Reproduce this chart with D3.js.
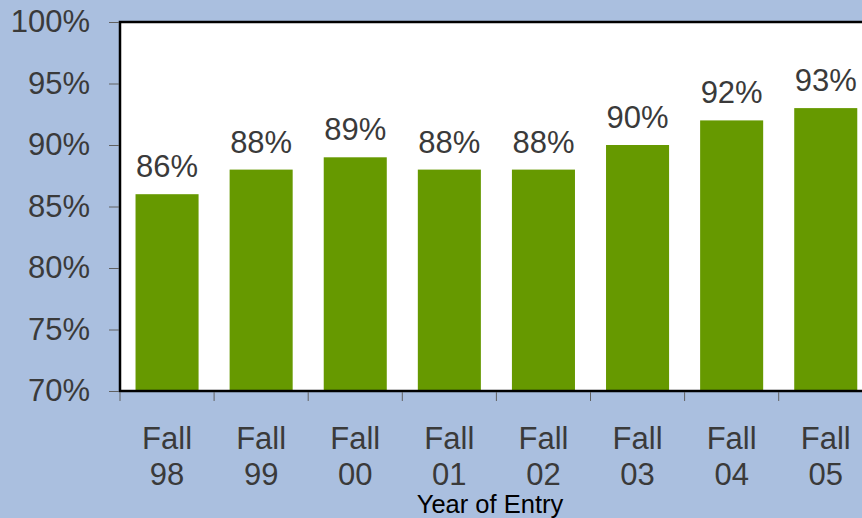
<!DOCTYPE html>
<html>
<head>
<meta charset="utf-8">
<script src="https://cdn.jsdelivr.net/npm/d3@7"></script>
<style>
  html, body { margin: 0; padding: 0; background: #aabfdf; overflow: hidden; }
  svg { display: block; }
  text { font-family: "Liberation Sans", Arial, sans-serif; }
</style>
</head>
<body>
<svg id="chart" width="862" height="518"></svg>
<script>
const seasons = ["Fall", "Fall", "Fall", "Fall", "Fall", "Fall", "Fall", "Fall"];
const years = ["98", "99", "00", "01", "02", "03", "04", "05"];
const values = [86, 88, 89, 88, 88, 90, 92, 93];
const yTicks = [70, 75, 80, 85, 90, 95, 100];
const xTitle = "Year of Entry";

const categories = years.map((y, i) => seasons[i] + " " + y);

const svg = d3.select("#chart");
const plot = { left: 120, top: 22, right: 872.8, bottom: 391 };

const x = d3.scaleBand()
  .domain(categories)
  .range([plot.left, plot.right])
  .paddingInner(0.33)
  .paddingOuter(0.165);

const y = d3.scaleLinear()
  .domain([70, 100])
  .range([plot.bottom, plot.top]);

const FS = 31;
const txtColor = "#3a3a3a";

// plot area
svg.append("rect")
  .attr("x", plot.left)
  .attr("y", plot.top)
  .attr("width", plot.right - plot.left)
  .attr("height", plot.bottom - plot.top)
  .attr("fill", "#ffffff");

// bars
svg.selectAll("rect.bar")
  .data(values)
  .join("rect")
  .attr("class", "bar")
  .attr("x", (d, i) => x(categories[i]))
  .attr("y", d => y(d))
  .attr("width", x.bandwidth())
  .attr("height", d => y(70) - y(d))
  .attr("fill", "#669900");

// data labels
svg.selectAll("text.dlabel")
  .data(values)
  .join("text")
  .attr("class", "dlabel")
  .attr("x", (d, i) => x(categories[i]) + x.bandwidth() / 2)
  .attr("y", d => y(d) - 17)
  .attr("text-anchor", "middle")
  .attr("font-size", FS)
  .attr("fill", txtColor)
  .text(d => d + "%");

// border
svg.append("rect")
  .attr("x", plot.left)
  .attr("y", plot.top)
  .attr("width", plot.right - plot.left)
  .attr("height", plot.bottom - plot.top)
  .attr("fill", "none")
  .attr("stroke", "#000")
  .attr("stroke-width", 2.5);

// y axis
const yAxis = d3.axisLeft(y)
  .tickValues(yTicks)
  .tickSize(10)
  .tickPadding(19)
  .tickFormat(d => d + "%");
const gy = svg.append("g")
  .attr("transform", `translate(${plot.left - 1},0)`)
  .call(yAxis);
gy.select(".domain").remove();
gy.selectAll(".tick line").attr("stroke", "#606060");
gy.selectAll(".tick text")
  .attr("font-size", FS)
  .attr("fill", txtColor)
  .attr("font-family", "Liberation Sans, Arial, sans-serif");

// x axis ticks at band boundaries
const boundaries = categories.map(c => x(c) - x.step() * x.paddingInner() / 2);
boundaries[0] = plot.left;
svg.selectAll("line.xtick")
  .data(boundaries)
  .join("line")
  .attr("class", "xtick")
  .attr("x1", d => d)
  .attr("x2", d => d)
  .attr("y1", plot.bottom + 1)
  .attr("y2", plot.bottom + 10)
  .attr("stroke", "#606060");

// x labels
const xl = svg.selectAll("text.xlabel")
  .data(categories)
  .join("text")
  .attr("class", "xlabel")
  .attr("text-anchor", "middle")
  .attr("font-size", FS)
  .attr("fill", txtColor);
xl.append("tspan")
  .attr("x", d => x(d) + x.bandwidth() / 2)
  .attr("y", 449)
  .text((d, i) => seasons[i]);
xl.append("tspan")
  .attr("x", d => x(d) + x.bandwidth() / 2)
  .attr("y", 485)
  .text((d, i) => years[i]);

// axis title
svg.append("text")
  .attr("x", 490)
  .attr("y", 513)
  .attr("text-anchor", "middle")
  .attr("font-size", 25.5)
  .attr("fill", "#000")
  .text(xTitle);
</script>
</body>
</html>
